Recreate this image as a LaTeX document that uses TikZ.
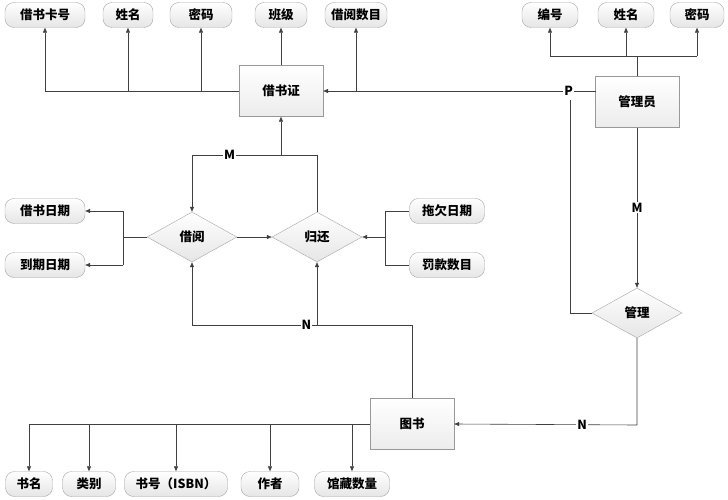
\documentclass[tikz,border=0pt]{standalone}
\usepackage{fontspec}
\setmainfont{Noto Sans CJK SC}
\usetikzlibrary{shapes.geometric,arrows.meta}
\newcommand{\dfont}{\fontsize{12.5}{14}\selectfont\bfseries}
\begin{document}
\begin{tikzpicture}[x=1pt,y=-1pt,
 attr/.style={draw=gray!70,rounded corners=9pt,top color=white,bottom color=gray!20,minimum height=25pt,inner xsep=3pt,font=\dfont},
 ent/.style={draw=gray!80,top color=white,bottom color=gray!15,minimum width=84pt,minimum height=51pt,font=\dfont},
 rel/.style={diamond,aspect=1.8,draw=gray!70,top color=white,bottom color=gray!20,minimum width=90pt,minimum height=50pt,inner sep=0pt,font=\dfont},
 ln/.style={draw=black!75,line width=0.6pt},
 ar/.style={ln,-{Triangle[length=5pt,width=4pt]}},
 lab/.style={font=\dfont,fill=white,inner sep=1pt}]
\useasboundingbox (0,0) rectangle (728,500);
\node[attr,minimum width=80pt] (a1) at (45,15) {借书卡号};
\node[attr,minimum width=50pt] (a2) at (128,15) {姓名};
\node[attr,minimum width=62pt] (a3) at (201,15) {密码};
\node[attr,minimum width=52pt] (a4) at (281,15) {班级};
\node[attr,minimum width=62pt] (a5) at (356,15) {借阅数目};
\node[attr,minimum width=56pt] (b1) at (550,15) {编号};
\node[attr,minimum width=56pt] (b2) at (626,15) {姓名};
\node[attr,minimum width=54pt] (b3) at (697,15) {密码};
\node[ent] (jsz) at (281,91) {借书证};
\node[ent] (gly) at (637,102) {管理员};
\node[ent] (ts) at (412,424) {图书};
\node[rel] (jy) at (192,237) {借阅};
\node[rel] (gh) at (317,237) {归还};
\node[rel] (gl) at (637,313) {管理};
\node[attr,minimum width=80pt] (d1) at (45,211) {借书日期};
\node[attr,minimum width=80pt] (d2) at (45,265) {到期日期};
\node[attr,minimum width=75pt] (d3) at (447,211) {拖欠日期};
\node[attr,minimum width=75pt] (d4) at (447,265) {罚款数目};
\node[attr,minimum width=47pt] (c1) at (29,484) {书名};
\node[attr,minimum width=53pt] (c2) at (89,484) {类别};
\node[attr,minimum width=103pt] (c3) at (176,484) {书号（ISBN）};
\node[attr,minimum width=58pt] (c4) at (270,484) {作者};
\node[attr,minimum width=75pt] (c5) at (352,484) {馆藏数量};
% 借书证 attributes
\coordinate (h1) at (45,91); \coordinate (h2) at (128,91); \coordinate (h3) at (201,91); \coordinate (h5) at (356,91);
\draw[ln] (jsz.west) -- (h1);
\draw[ar] (h1) -- (a1.south); \draw[ar] (h2) -- (a2.south); \draw[ar] (h3) -- (a3.south);
\draw[ar] (jsz.north) -- (a4.south); \draw[ar] (h5) -- (a5.south);
% 管理员 attributes
\coordinate (g1) at (550,56); \coordinate (g3) at (697,56); \coordinate (g2) at (626,56);
\draw[ln] (g1) -- (g3); \draw[ln] (gly.north) -- (637,56);
\draw[ar] (g1) -- (b1.south); \draw[ar] (g2) -- (b2.south); \draw[ar] (g3) -- (b3.south);
% P
\coordinate (p0) at (596,91); \coordinate (p1) at (570,100); \coordinate (p2) at (570,313);
\draw[ar] (p0) -- node[lab,pos=0.1]{P} (jsz.east);
\draw[ln] (p1) -- (p2) -- (gl.west);
% M manage
\draw[ar] (gly.south) -- node[lab]{M} (gl.north);
\coordinate (n1) at (637,425);
\draw[ar] (gl.south) -- (n1) -- node[lab,pos=0.3]{N} (ts.east);
% M borrow
\coordinate (m1) at (192,155); \coordinate (m2) at (317,155); \coordinate (m3) at (281,155);
\draw[ar] (m3) -- (jsz.south);
\draw[ln] (gh.north) -- (m2) -- node[lab,pos=0.7]{M} (m1);
\draw[ar] (m1) -- (jy.north);
\draw[ar] (jy.east) -- (gh.west);
% N borrow
\coordinate (k1) at (412,325); \coordinate (k2) at (192,325); \coordinate (k3) at (317,325);
\draw[ln] (ts.north) -- (k1) -- node[lab,pos=0.48]{N} (k2);
\draw[ar] (k2) -- (jy.south); \draw[ar] (k3) -- (gh.south);
% dates
\coordinate (e1) at (123,211); \coordinate (e2) at (123,265); \coordinate (e0) at (123,237);
\draw[ln] (jy.west) -- (e0); \draw[ln] (e1) -- (e2);
\draw[ar] (e1) -- (d1.east); \draw[ar] (e2) -- (d2.east);
\coordinate (f1) at (385,211); \coordinate (f2) at (385,265); \coordinate (f0) at (385,237);
\draw[ln] (f1) -- (f2); \draw[ar] (f0) -- (gh.east);
\draw[ln] (f1) -- (d3.west); \draw[ln] (f2) -- (d4.west);
% 图书 attributes
\coordinate (t1) at (29,424);
\draw[ln] (ts.west) -- (t1);
\draw[ar] (t1) -- (c1.north);
\foreach \c in {c2,c3,c4,c5}{\draw[ar] (\c.north |- t1) -- (\c.north);}
\end{tikzpicture}
\end{document}
